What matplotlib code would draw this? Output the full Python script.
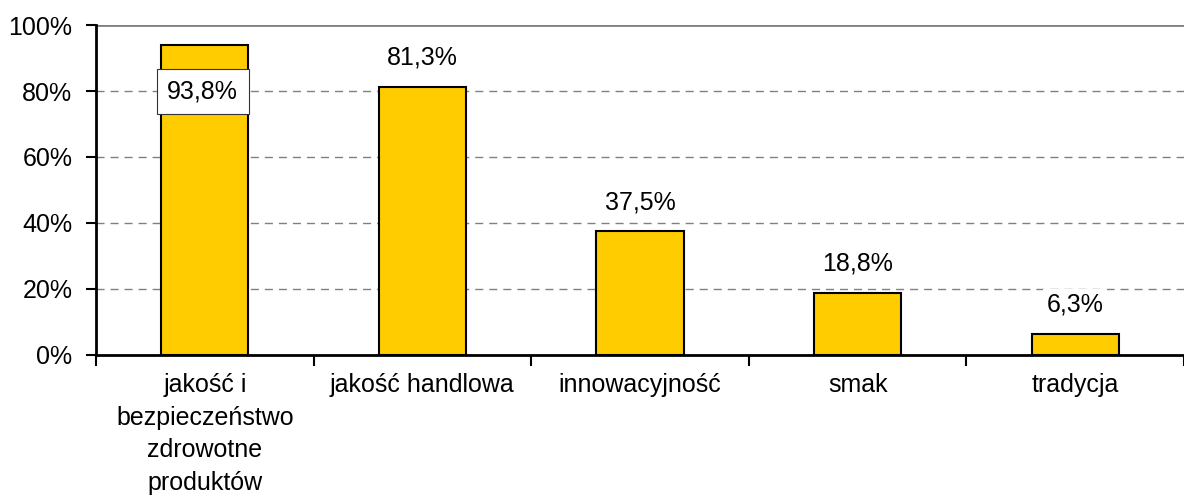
import matplotlib.pyplot as plt
import numpy as np

plt.rcParams['font.family'] = ['Liberation Sans', 'DejaVu Sans']

# dane
kategorie = ['jakość i\nbezpieczeństwo\nzdrowotne\nproduktów', 'jakość handlowa',
             'innowacyjność', 'smak', 'tradycja']
wartosci = [93.8, 81.3, 37.5, 18.8, 6.3]
etykiety = ['93,8%', '81,3%', '37,5%', '18,8%', '6,3%']

fs = 18

fig = plt.figure(figsize=(11.84, 4.95), dpi=100)
ax = fig.add_axes([96 / 1184, 140 / 495, 1 - 96 / 1184, 330 / 495])

x = np.arange(len(kategorie))
ax.bar(x, wartosci, width=0.4, color='#FFCC00', edgecolor='black', linewidth=1.5, zorder=3)

ax.set_xlim(-0.5, len(kategorie) - 0.5)
ax.set_ylim(0, 100)
ax.set_yticks([0, 20, 40, 60, 80, 100])
ax.set_yticklabels(['0%', '20%', '40%', '60%', '80%', '100%'], fontsize=fs)

# linie siatki
for v in [20, 40, 60, 80]:
    ax.axhline(v, color='#808080', linestyle=(0, (5.8, 4.3)), linewidth=1, zorder=1)
ax.axhline(100, color='#808080', linewidth=2, zorder=1)

# osie
for s in ['top', 'right']:
    ax.spines[s].set_visible(False)
ax.spines['left'].set_linewidth(2)
ax.spines['bottom'].set_linewidth(2)
ax.tick_params(axis='y', length=7, width=1.5, pad=10)

# podpisy kategorii i znaczniki między kategoriami
ax.set_xticks(np.arange(-0.5, len(kategorie), 1.0))
ax.set_xticklabels([])
ax.tick_params(axis='x', length=8, width=1.5, direction='out')
for i, k in enumerate(kategorie):
    ax.text(i, -5.5, k, ha='center', va='top', fontsize=fs, linespacing=1.45)

# etykiety wartości
ax.text(-0.01, 80, etykiety[0], ha='center', va='center', fontsize=fs, zorder=5,
        bbox=dict(boxstyle='square,pad=0.42', facecolor='white', edgecolor='#333333', linewidth=0.8))
for i in range(1, len(wartosci)):
    ax.annotate(etykiety[i], (i, wartosci[i]), xytext=(0, 16), textcoords='offset points',
                ha='center', va='baseline', fontsize=fs, zorder=5,
                bbox=dict(boxstyle='square,pad=0.15', facecolor='white', edgecolor='none'))

fig.savefig('out.png', dpi=100)
